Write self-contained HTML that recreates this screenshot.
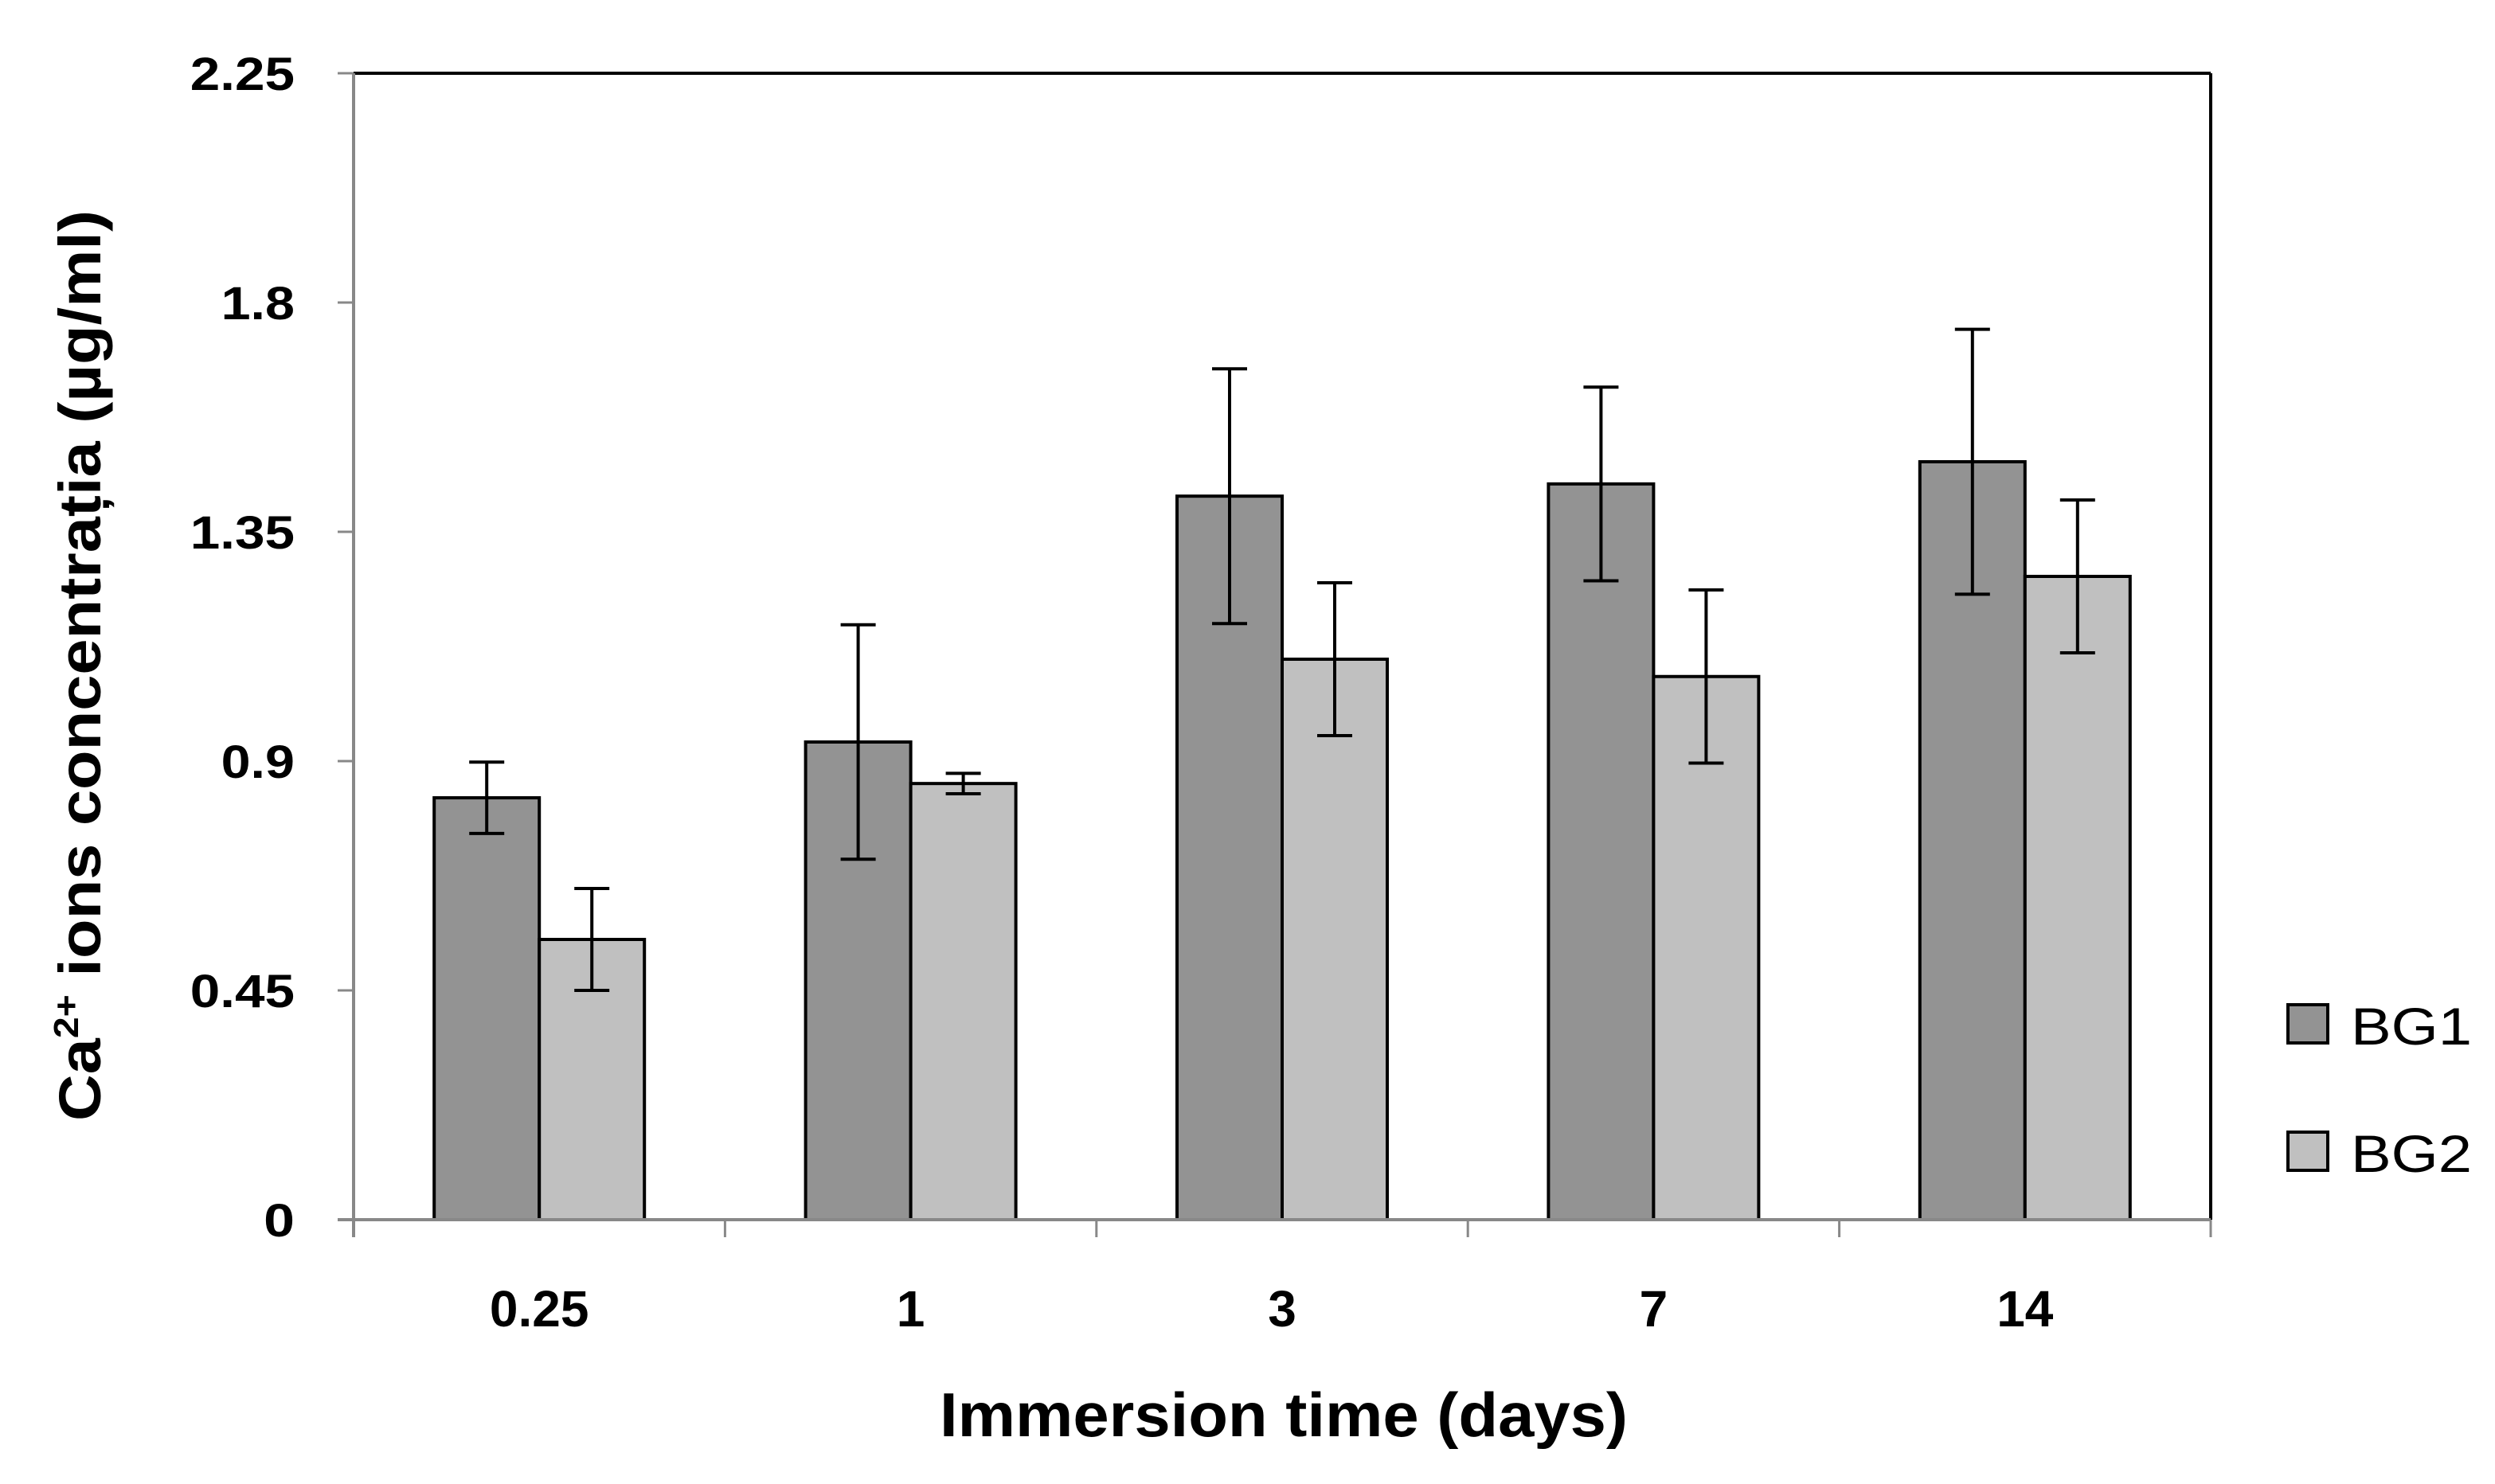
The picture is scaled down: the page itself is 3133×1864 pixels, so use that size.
<!DOCTYPE html>
<html><head><meta charset="utf-8"><style>
html,body{margin:0;padding:0;background:#fff;}
svg{display:block;font-family:"Liberation Sans",sans-serif;}
</style></head><body>
<svg id="chart" width="3133" height="1864" viewBox="0 0 3133 1864" xmlns="http://www.w3.org/2000/svg">
<rect width="3133" height="1864" fill="#fff"/>
<g id="plot"></g>
<text transform="translate(126,836) rotate(-90)" text-anchor="middle" font-size="74" font-weight="bold" textLength="1144" lengthAdjust="spacingAndGlyphs">Ca<tspan font-size="44" dy="-28">2+</tspan><tspan dy="28"> ions concentrația (µg/ml)</tspan></text>
<text x="1612" y="1804" text-anchor="middle" font-size="78" font-weight="bold" textLength="864" lengthAdjust="spacingAndGlyphs">Immersion time (days)</text>
<g>
<rect x="2873" y="1262" width="50" height="48" fill="#939393" stroke="#000" stroke-width="4"/>
<text x="2952" y="1312" font-size="66" textLength="152" lengthAdjust="spacingAndGlyphs">BG1</text>
<rect x="2873" y="1422" width="50" height="48" fill="#c0c0c0" stroke="#000" stroke-width="4"/>
<text x="2952" y="1472" font-size="66" textLength="152" lengthAdjust="spacingAndGlyphs">BG2</text>
</g>
</svg>
<script>
const categories = ["0.25","1","3","7","14"];
const bg1Values = [0.828,0.9375,1.42,1.444,1.4875];
const bg1Errors = [0.07,0.23,0.25,0.19,0.26];
const bg2Values = [0.55,0.856,1.10,1.066,1.2625];
const bg2Errors = [0.10,0.02,0.15,0.17,0.15];
const yTicks = [0,0.45,0.9,1.35,1.8,2.25];

const NS="http://www.w3.org/2000/svg";
const L=444,R=2776,T=92,B=1532,YMAX=2.25;
const y=v=>B-(v/YMAX)*(B-T);
const catW=(R-L)/categories.length;
const cx=i=>L+catW*(i+0.5);
const barW=132;
const g=document.getElementById('plot');
function mk(tag,attrs){const e=document.createElementNS(NS,tag);for(const k in attrs)e.setAttribute(k,attrs[k]);g.appendChild(e);return e;}
function charW(s){let w=0;for(const ch of s)w+=(ch==='.'?14:37);return w;}

let e=mk('line',{x1:L,y1:T,x2:R,y2:T,stroke:'#000','stroke-width':4});


e=mk('line',{x1:R,y1:T,x2:R,y2:B,stroke:'#000','stroke-width':4});



yTicks.forEach(t=>{
  const tk=mk('line',{x1:L-20,y1:y(t),x2:L,y2:y(t),stroke:'#888','stroke-width':3});
  
  
  const s=String(t);
  const lb=mk('text',{x:370,y:y(t)+21,'text-anchor':'end','font-size':58,'font-weight':'bold',textLength:charW(s)*1.05,lengthAdjust:'spacingAndGlyphs'});
  lb.textContent=s;
  
  
});

function bar(i,v,err,left,fill,name){
  const r=mk('rect',{x:left,y:y(v),width:barW,height:B-y(v),fill:fill,stroke:'#000','stroke-width':4});
  
  
  const c=left+barW/2;
  const eb=mk('path',{d:`M${c},${y(v+err)}V${y(v-err)}M${c-22},${y(v+err)}H${c+22}M${c-22},${y(v-err)}H${c+22}`,stroke:'#000','stroke-width':4,fill:'none'});
  
  
}
categories.forEach((c,i)=>{
  bar(i,bg1Values[i],bg1Errors[i],cx(i)-barW,'#939393','bar-bg1-'+c);
  bar(i,bg2Values[i],bg2Errors[i],cx(i),'#c0c0c0','bar-bg2-'+c);
  const lb=mk('text',{x:cx(i),y:1666,'text-anchor':'middle','font-size':64,'font-weight':'bold'});
  lb.textContent=c;
  
  
});
for(let i=0;i<=categories.length;i++){
  const xx=L+catW*i;
  const tk=mk('line',{x1:xx,y1:B,x2:xx,y2:B+22,stroke:'#888','stroke-width':3});
  
  
}
e=mk('line',{x1:L,y1:T,x2:L,y2:B+22,stroke:'#888','stroke-width':4});


e=mk('line',{x1:L-20,y1:B,x2:R,y2:B,stroke:'#888','stroke-width':4});


</script>
</body></html>
